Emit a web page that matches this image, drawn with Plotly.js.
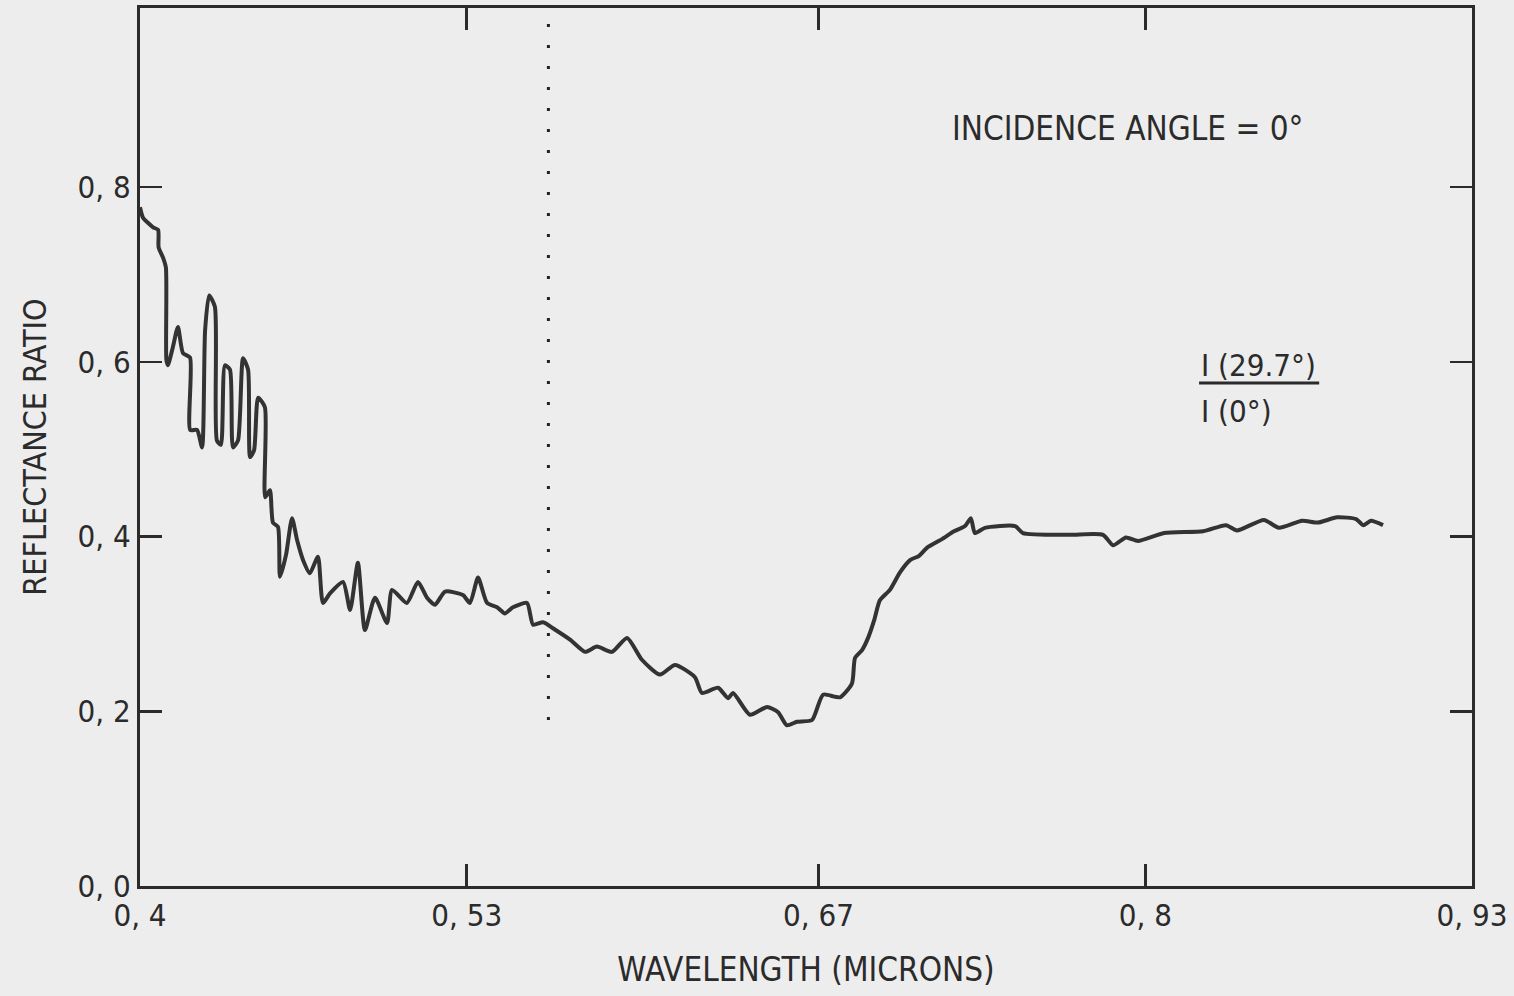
<!DOCTYPE html>
<html>
<head>
<meta charset="utf-8">
<script src="https://cdn.plot.ly/plotly-3.0.1.min.js"></script>
<style>html,body{margin:0;padding:0;background:#ededed;}</style>
</head>
<body>
<div id="chart" style="width:1514px;height:996px;"></div>
<script>
// Wavelength (microns)
const wavelength = [
0.4000,0.4012,0.4052,0.4072,0.4074,0.4092,0.4103,0.4105,0.4111,0.4131,
0.4151,0.4171,0.4199,0.4200,0.4227,0.4247,0.4259,0.4275,0.4298,0.4306,
0.4322,0.4338,0.4358,0.4370,0.4390,0.4410,0.4430,0.4438,0.4454,0.4470,
0.4497,0.4498,0.4517,0.4529,0.4549,0.4557,0.4581,0.4605,0.4625,0.4649,
0.4676,0.4708,0.4728,0.4756,0.4808,0.4836,0.4867,0.4895,0.4935,0.4983,
0.5003,0.5062,0.5106,0.5142,0.5174,0.5214,0.5285,0.5313,0.5345,0.5381,
0.5421,0.5452,0.5484,0.5540,0.5564,0.5604,0.5643,0.5711,0.5771,0.5818,
0.5878,0.5938,0.5997,0.6069,0.6129,0.6208,0.6236,0.6300,0.6340,0.6360,
0.6427,0.6495,0.6539,0.6574,0.6614,0.6674,0.6718,0.6785,0.6833,0.6845,
0.6873,0.6897,0.6921,0.6944,0.6984,0.7024,0.7064,0.7100,0.7131,0.7191,
0.7239,0.7283,0.7306,0.7322,0.7362,0.7482,0.7513,0.7697,0.7832,0.7872,
0.7923,0.7971,0.8075,0.8230,0.8321,0.8365,0.8472,0.8532,0.8624,0.8687,
0.8763,0.8839,0.8867,0.8898,0.8946
];
// Reflectance ratio I(29.7°)/I(0°)
const ratio = [
0.777,0.765,0.754,0.751,0.731,0.719,0.708,0.602,0.596,0.617,
0.640,0.610,0.605,0.522,0.522,0.502,0.636,0.676,0.663,0.510,
0.505,0.596,0.591,0.502,0.510,0.604,0.591,0.491,0.499,0.559,
0.548,0.445,0.453,0.416,0.411,0.354,0.379,0.421,0.396,0.373,
0.358,0.377,0.324,0.335,0.348,0.316,0.370,0.293,0.330,0.301,
0.339,0.324,0.348,0.330,0.322,0.337,0.333,0.324,0.353,0.324,
0.319,0.312,0.319,0.324,0.299,0.302,0.295,0.282,0.268,0.274,
0.268,0.284,0.259,0.242,0.253,0.239,0.221,0.227,0.215,0.221,
0.196,0.205,0.199,0.184,0.188,0.190,0.219,0.216,0.232,0.261,
0.270,0.284,0.304,0.327,0.339,0.359,0.373,0.378,0.387,0.397,
0.406,0.412,0.421,0.404,0.410,0.412,0.404,0.402,0.402,0.390,
0.399,0.395,0.404,0.406,0.413,0.407,0.419,0.410,0.418,0.416,
0.422,0.420,0.413,0.418,0.413
];
const xTickVals = [0.4, 0.53, 0.67, 0.8, 0.93];
const xTickText = ['0, 4', '0, 53', '0, 67', '0, 8', '0, 93'];
const yTickVals = [0, 0.2, 0.4, 0.6, 0.8];
const yTickText = ['0, 0', '0, 2', '0, 4', '0, 6', '0, 8'];
const markerWavelength = 0.5625;

const FONT = '"DejaVu Sans Condensed", "Liberation Sans Narrow", "DejaVu Sans", sans-serif';
const INK = '#2b2b2b';

const trace = {
  x: wavelength, y: ratio, type: 'scatter', mode: 'lines',
  line: {color: '#333333', width: 4, shape: 'spline', smoothing: 0.6},
  hoverinfo: 'x+y'
};

const layout = {
  width: 1514, height: 996,
  margin: {l: 140, r: 42, t: 8, b: 110},
  paper_bgcolor: '#ededed', plot_bgcolor: '#ededed',
  showlegend: false,
  font: {family: FONT, color: INK, size: 30},
  xaxis: {
    range: [0.4, 0.93], tickvals: xTickVals, ticktext: xTickText,
    ticks: 'inside', ticklen: 22, tickwidth: 2.5, tickcolor: INK,
    showline: true, linecolor: INK, linewidth: 3, mirror: 'ticks',
    showgrid: false, zeroline: false,
    tickfont: {family: FONT, size: 31, color: INK},
    title: {text: 'WAVELENGTH (MICRONS)', font: {family: FONT, size: 33, color: INK}, standoff: 26},
    automargin: false
  },
  yaxis: {
    range: [0, 1.005], tickvals: yTickVals, ticktext: yTickText,
    ticks: 'inside', ticklen: 22, tickwidth: 2.5, tickcolor: INK,
    showline: true, linecolor: INK, linewidth: 3, mirror: 'ticks',
    showgrid: false, zeroline: false,
    tickfont: {family: FONT, size: 31, color: INK},
    title: {text: 'REFLECTANCE RATIO', font: {family: FONT, size: 32, color: INK}, standoff: 22},
    automargin: false
  },
  shapes: [
    {type: 'line', xref: 'x', yref: 'y', x0: markerWavelength, x1: markerWavelength, y0: 0.19, y1: 1.0,
     line: {color: '#222', width: 3, dash: '3px,18px'}},
    {type: 'line', xref: 'x', yref: 'y', x0: 0.8214, x1: 0.8692, y0: 0.5757, y1: 0.5757,
     line: {color: INK, width: 3}}
  ],
  annotations: [
    {x: 0.7928, y: 0.8675, xref: 'x', yref: 'y', showarrow: false,
     text: 'INCIDENCE ANGLE = 0°', font: {family: FONT, size: 33, color: INK}},
    {x: 0.8214, y: 0.596, xref: 'x', yref: 'y', showarrow: false, xanchor: 'left', yanchor: 'middle',
     text: 'I (29.7°)', font: {family: FONT, size: 31, color: INK}},
    {x: 0.8214, y: 0.544, xref: 'x', yref: 'y', showarrow: false, xanchor: 'left', yanchor: 'middle',
     text: 'I (0°)', font: {family: FONT, size: 31, color: INK}}
  ]
};

Plotly.newPlot('chart', [trace], layout, {displayModeBar: false, staticPlot: true});
</script>
</body>
</html>
